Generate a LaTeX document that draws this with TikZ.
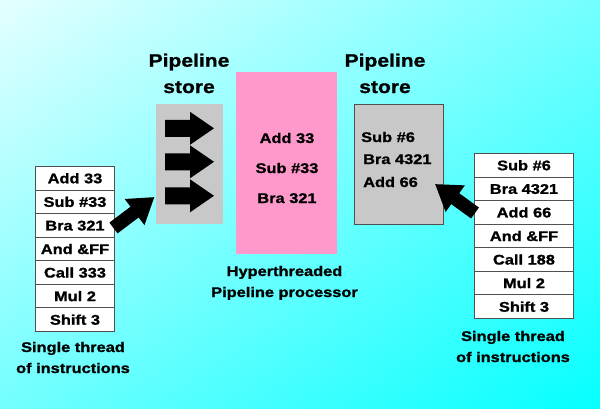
\documentclass[tikz,border=0pt]{standalone}
\usepackage{fontspec}
\newfontfamily\hfont{Liberation Sans}[FakeStretch=1.17, BoldFeatures={FakeBold=1.2}]
\usetikzlibrary{arrows.meta,shadings}
\definecolor{pinkbox}{RGB}{255,153,204}
\definecolor{graybox}{RGB}{200,200,200}
\definecolor{edge}{RGB}{80,80,80}
\definecolor{bgA}{RGB}{228,255,255}
\definecolor{bgB}{RGB}{115,255,255}
\definecolor{bgC}{RGB}{5,255,255}
\begin{document}
\begin{tikzpicture}[x=1pt,y=-1pt,
  txt/.style={font=\hfont\bfseries\fontsize{14}{16}\selectfont, text height=10pt, text depth=0pt, inner sep=0pt},
  big/.style={font=\hfont\bfseries\fontsize{18}{20}\selectfont, inner sep=0pt, anchor=base},
  rowbox/.style={txt, draw=edge, line width=1pt, fill=white, minimum height=23.57pt, anchor=north west},
  rowL/.style={rowbox, minimum width=79pt},
  rowR/.style={rowbox, minimum width=99pt},
  storebox/.style={fill=graybox, inner sep=0pt, anchor=north west},
  bigarrow/.style={line width=13.5pt, -{Triangle[width=31pt,length=25pt]}}
]
\useasboundingbox (0,0) rectangle (600,408);
\shade[upper left=bgA, upper right=bgB, lower left=bgB, lower right=bgC] (0,0) rectangle (600,408);

% left stack
\foreach \t [count=\i from 0] in {Add 33, Sub \#33, Bra 321, And \&FF, Call 333, Mul 2, Shift 3}
  \node[rowL] (L\i) at ({35},{166+\i*23.57}) {\t};
\node[txt] (lab1) at (73,347) {Single thread};
\node[txt] (lab2) at (73,368) {of instructions};

% right stack
\foreach \t [count=\i from 0] in {Sub \#6, Bra 4321, Add 66, And \&FF, Call 188, Mul 2, Shift 3}
  \node[rowR] (R\i) at ({474},{153+\i*23.57}) {\t};
\node[txt] (lab3) at (513,336) {Single thread};
\node[txt] (lab4) at (513,357) {of instructions};

% left pipeline store
\node[big] (ph1) at (189,66.7) {Pipeline};
\node[big] (ph2) at (189,93) {store};
\node[storebox, minimum width=67pt, minimum height=120pt] (ps1) at (156,104) {};
\foreach \c in {128.3,161.8,195.8}
  \fill ({165},{\c-8.5}) -- ({190},{\c-8.5}) -- ({190},{\c-16.5}) -- ({214},{\c})
    -- ({190},{\c+16.5}) -- ({190},{\c+8.5}) -- ({165},{\c+8.5}) -- cycle;

% processor
\node[fill=pinkbox, inner sep=0pt, anchor=north west, minimum width=101pt, minimum height=182pt] (proc) at (236,72) {};
\node[txt] (p1) at (287,138) {Add 33};
\node[txt] (p2) at (287,168) {Sub \#33};
\node[txt] (p3) at (287,198) {Bra 321};
\node[txt] (h1) at (284.5,271) {Hyperthreaded};
\node[txt] (h2) at (284.5,292) {Pipeline processor};

% right pipeline store
\node[big] (ph3) at (385,66.7) {Pipeline};
\node[big] (ph4) at (385,93) {store};
\node[storebox, draw=edge, line width=1pt, minimum width=89pt, minimum height=120pt] (ps2) at (354,104) {};
\node[txt, anchor=west] (s1) at (361,137) {Sub \#6};
\node[txt, anchor=west] (s2) at (363,159) {Bra 4321};
\node[txt, anchor=west] (s3) at (363,182) {Add 66};

% big arrows
\coordinate (lt) at (113.5,228);
\coordinate (lh) at (154.5,197);
\draw[bigarrow] (lt) -- (lh);
\coordinate (rt) at (475,213);
\coordinate (rh) at (435,184);
\draw[bigarrow] (rt) -- (rh);
\end{tikzpicture}
\end{document}
